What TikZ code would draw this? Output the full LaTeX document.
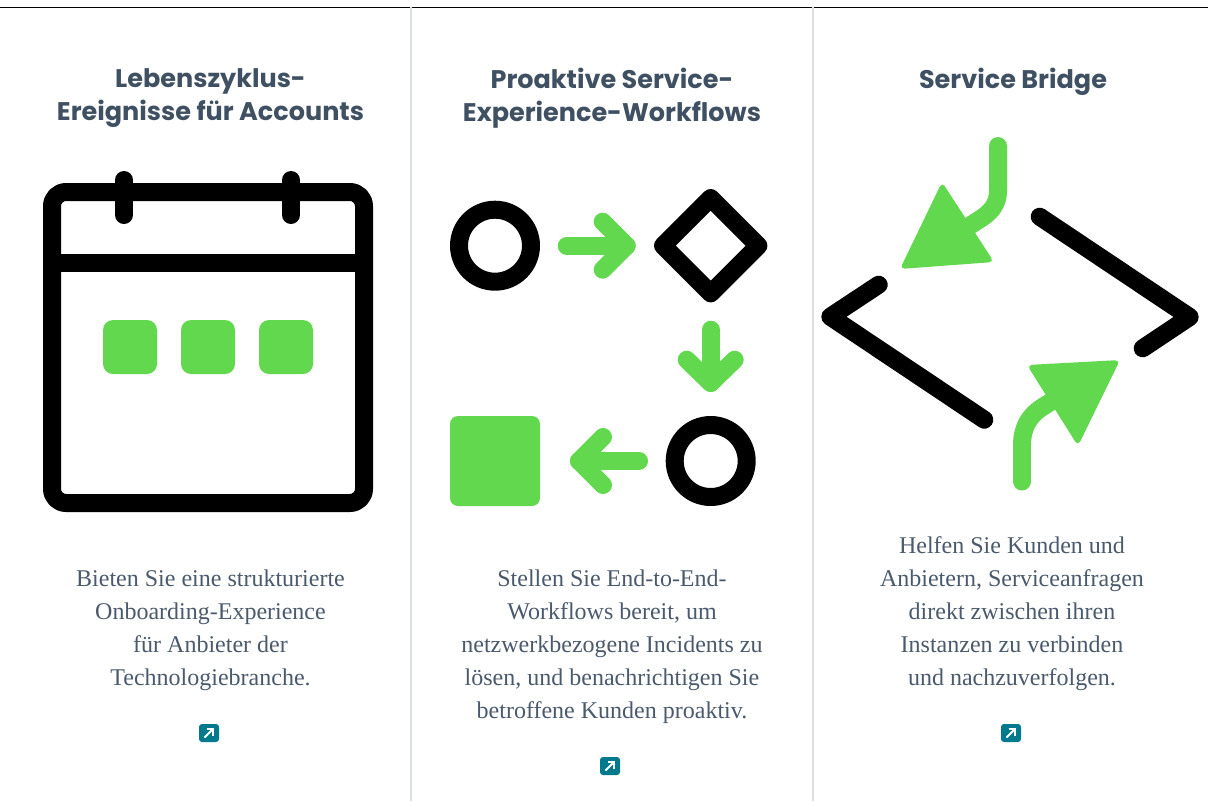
\documentclass[tikz,border=0pt]{standalone}
\usepackage{fontspec}
\setmainfont{Liberation Serif}
\newfontfamily\headfont{Poppins}
\definecolor{leaf}{HTML}{62D84E}
\definecolor{slatehead}{HTML}{3F5062}
\definecolor{slatebody}{HTML}{4A5A6C}
\definecolor{teal}{HTML}{007A8C}
\definecolor{rulegray}{HTML}{DCDFE0}
\tikzset{
  icon/.style={line width=18pt,line cap=round,line join=round},
  ink/.style={icon,draw=black},
  green/.style={icon,draw=leaf},
  headtext/.style={text=slatehead,align=center,font={\headfont\bfseries\fontsize{25.5}{33}\selectfont}},
  bodytext/.style={text=slatebody,align=center,font={\fontsize{24}{33}\selectfont}},
  linkbox/.style={fill=teal,rounded corners=3pt},
  linkarrow/.style={draw=white,line width=1.8pt},
}
\newcommand{\linkicon}[2]{%
  \fill[linkbox] (#1-10,#2-9) rectangle (#1+10,#2+9);
  \draw[linkarrow] (#1-4.5,#2+4.5) -- (#1+4,#2-4);
  \draw[linkarrow] (#1-2.5,#2-4) -- (#1+4,#2-4) -- (#1+4,#2+2.5);
}
\begin{document}
\begin{tikzpicture}[x=1pt,y=-1pt]
\useasboundingbox (0,0) rectangle (1208,801);
% rules
\draw[black,line width=1pt] (0,7.5) -- (1208,7.5);
\draw[rulegray,line width=2pt] (411,7) -- (411,801);
\draw[rulegray,line width=2pt] (813,7) -- (813,801);
% headings
\node[headtext] (h1) at (210.5,98) {Lebenszyklus-\\Ereignisse für Accounts};
\node[headtext] (h2) at (612,98) {Proaktive Service-\\Experience-Workflows};
\node[headtext] (h3) at (1013,81.5) {Service Bridge};
% calendar
\draw[ink,rounded corners=14pt] (52,192) rectangle (364,503);
\draw[ink,line cap=butt] (52,263) -- (364,263);
\draw[ink] (124,180) -- (124,215);
\draw[ink] (291,180) -- (291,215);
\fill[leaf,rounded corners=10pt] (103,320) rectangle (157,374);
\fill[leaf,rounded corners=10pt] (181,320) rectangle (235,374);
\fill[leaf,rounded corners=10pt] (259,320) rectangle (313,374);
% workflow
\draw[ink] (495,245.7) circle (36);
\draw[ink] (710.7,198) -- (758.4,245.7) -- (710.7,293.4) -- (663,245.7) -- cycle;
\draw[ink] (710.7,461) circle (36);
\fill[leaf,rounded corners=8pt] (450,416) rectangle (540,506);
\draw[green] (566.7,245.7) -- (626.7,245.7);
\draw[green] (602.7,221.7) -- (626.7,245.7) -- (602.7,269.7);
\draw[green] (710.7,329.7) -- (710.7,383);
\draw[green] (686.7,359.7) -- (710.7,383) -- (734.7,359.7);
\draw[green] (639,461) -- (579,461);
\draw[green] (603,437) -- (579,461) -- (603,485);
% bridge
\draw[ink] (878.7,284.7) -- (830.3,316.7) -- (984.3,419.7);
\draw[ink] (1039.7,216.7) -- (1189.7,317) -- (1142.7,348.3);
\draw[green,line cap=round] (998,146) -- (998,191) .. controls (998,204) and (991,212) .. (981,218.5) -- (960,232);
\draw[green,line cap=butt] (1022,481.5) -- (1022,445);
\fill[leaf] (1022,481.5) circle (9);
\draw[green,line cap=butt] (1022,445) .. controls (1022,428) and (1029,416) .. (1041,408) -- (1060,396);
\fill[leaf,rounded corners=5pt] (942,182) -- (900,269) -- (994,262) -- cycle;
\fill[leaf,rounded corners=5pt] (1078,446) -- (1120,360) -- (1027,365) -- cycle;
% bodies
\node[bodytext] (b1) at (210.5,630) {Bieten Sie eine strukturierte\\Onboarding-Experience\\für Anbieter der\\Technologiebranche.};
\node[bodytext] (b2) at (612,647) {Stellen Sie End-to-End-\\Workflows bereit, um\\netzwerkbezogene Incidents zu\\lösen, und benachrichtigen Sie\\betroffene Kunden proaktiv.};
\node[bodytext] (b3) at (1012,614) {Helfen Sie Kunden und\\Anbietern, Serviceanfragen\\direkt zwischen ihren\\Instanzen zu verbinden\\und nachzuverfolgen.};
% links
\linkicon{209}{733}
\linkicon{610}{766}
\linkicon{1011}{733}
\end{tikzpicture}
\end{document}
